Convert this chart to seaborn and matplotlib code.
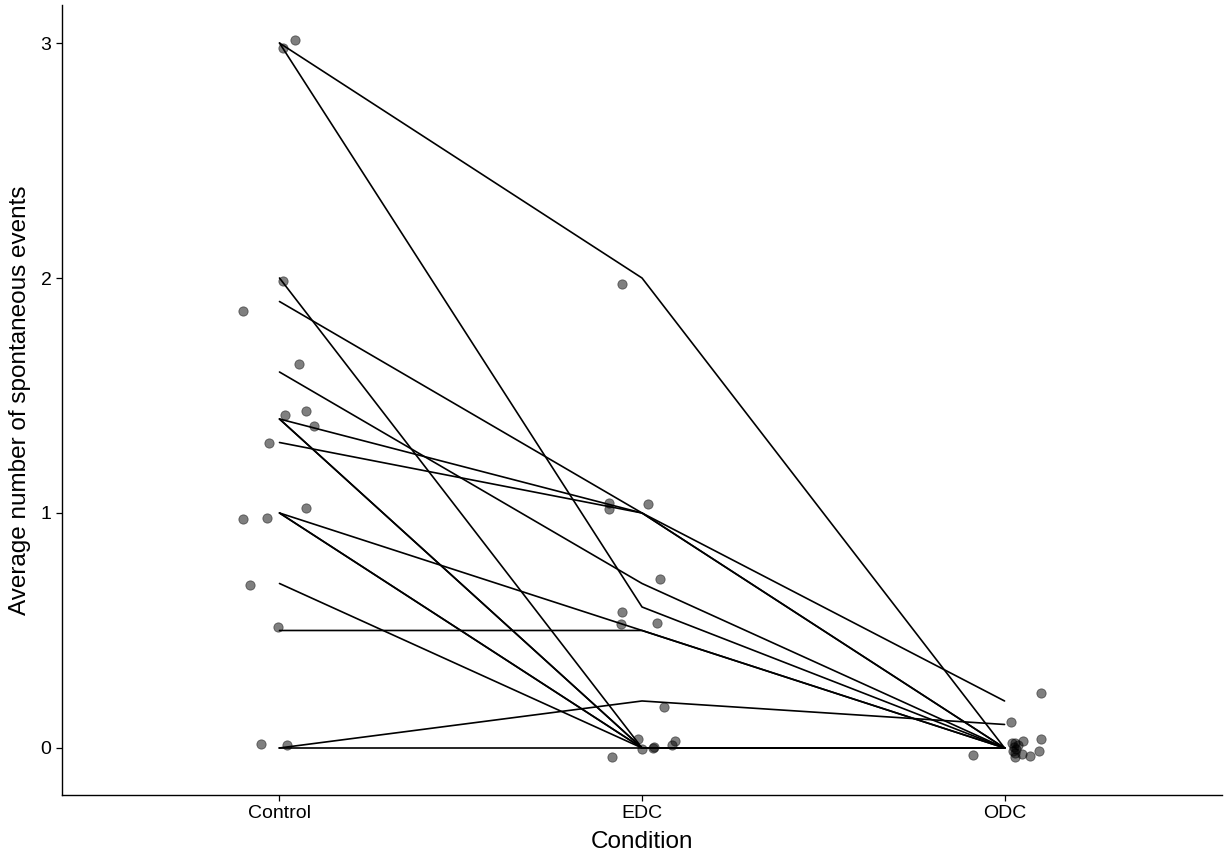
import numpy as np
import pandas as pd
import seaborn as sns
import matplotlib
matplotlib.use("Agg")
import matplotlib.pyplot as plt

# Conditions and per-subject values (one line per subject)
conditions = ["Control", "EDC", "ODC"]
control = [3.0, 3.0, 2.0, 1.9, 1.6, 1.4, 1.4, 1.4, 1.3, 1.0, 1.0, 1.0, 0.7, 0.5, 0.0, 0.0]
edc = [2.0, 0.6, 0.0, 1.0, 0.7, 1.0, 0.0, 0.0, 1.0, 0.5, 0.0, 0.0, 0.0, 0.5, 0.2, 0.0]
odc = [0.0, 0.0, 0.0, 0.0, 0.0, 0.2, 0.0, 0.0, 0.0, 0.0, 0.0, 0.0, 0.0, 0.0, 0.1, 0.0]

# Jittered points as they appear in the picture (x offset from category, y value)
ctrl_dx = [0.044, 0.011, 0.009, -0.102, 0.053, 0.016, 0.072, 0.095, -0.030, 0.072, -0.101, -0.034, -0.081, -0.005, -0.052, 0.021]
ctrl_y = [3.013, 2.980, 1.987, 1.861, 1.633, 1.417, 1.434, 1.370, 1.297, 1.023, 0.973, 0.977, 0.695, 0.516, 0.017, 0.011]
edc_dx = [-0.055, -0.090, -0.090, 0.017, 0.050, -0.055, -0.058, 0.041, 0.062, -0.011, 0.001, -0.082, 0.030, 0.034, 0.090, 0.083]
edc_y = [1.976, 1.041, 1.016, 1.040, 0.718, 0.579, 0.528, 0.531, 0.176, 0.037, -0.006, -0.040, -0.001, 0.003, 0.031, 0.011]
odc_dx = [0.101, 0.018, 0.021, 0.030, 0.050, 0.101, 0.032, 0.030, 0.028, 0.049, 0.070, 0.095, 0.026, -0.086, 0.036, 0.022]
odc_y = [0.235, 0.109, 0.020, 0.020, 0.031, 0.037, -0.004, -0.022, -0.037, -0.027, -0.034, -0.013, 0.005, -0.031, 0.011, -0.013]

n = len(control)
lines_df = pd.DataFrame({
    "subject": np.tile(np.arange(n), 3),
    "pos": np.repeat([0, 1, 2], n),
    "value": control + edc + odc,
})
points_df = pd.DataFrame({
    "pos": np.concatenate([np.array(ctrl_dx) + 0, np.array(edc_dx) + 1, np.array(odc_dx) + 2]),
    "value": ctrl_y + edc_y + odc_y,
})

sns.set_style("ticks")
plt.rcParams["font.family"] = ["Liberation Sans", "DejaVu Sans"]

fig = plt.figure(figsize=(12.25, 8.56), dpi=100)
ax = fig.add_axes([0.0506, 0.0713, 0.947, 0.9229])

sns.lineplot(data=lines_df, x="pos", y="value", units="subject", estimator=None,
             color="black", linewidth=1.2, ax=ax)
sns.scatterplot(data=points_df, x="pos", y="value", color="black", alpha=0.5,
                s=45, edgecolor="black", linewidth=0.6, ax=ax)

ax.set_xlim(-0.6, 2.6)
ax.set_ylim(-0.2, 3.162)
ax.set_xticks([0, 1, 2])
ax.set_xticklabels(conditions)
ax.set_yticks([0, 1, 2, 3])
ax.tick_params(axis="both", labelsize=14, length=4, width=0.9, color="black", labelcolor="black")
ax.set_xlabel("Condition", fontsize=17.5, labelpad=6, color="black")
ax.set_ylabel("Average number of spontaneous events", fontsize=17.5, labelpad=7, color="black")
for side in ["top", "right"]:
    ax.spines[side].set_visible(False)
for side in ["left", "bottom"]:
    ax.spines[side].set_color("black")
    ax.spines[side].set_linewidth(1.0)

fig.savefig("out.png", dpi=100)
